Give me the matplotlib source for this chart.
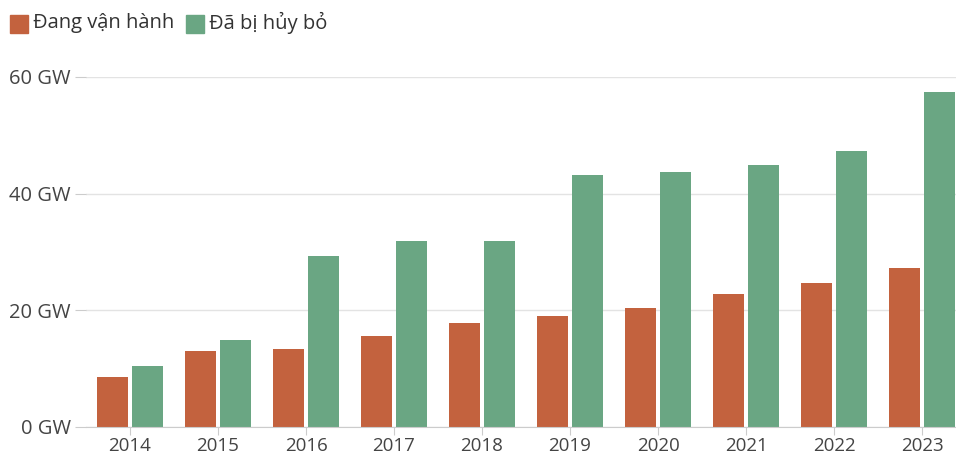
import matplotlib.pyplot as plt
import numpy as np
from matplotlib.patches import Rectangle

years = ['2014', '2015', '2016', '2017', '2018', '2019', '2020', '2021', '2022', '2023']
operating = [8.6, 13.0, 13.4, 15.6, 17.8, 19.0, 20.4, 22.8, 24.7, 27.3]
cancelled = [10.5, 14.9, 29.3, 31.9, 31.9, 43.2, 43.7, 44.9, 47.3, 57.4]
labels = ['Đang vận hành', 'Đã bị hủy bỏ']
colors = ['#c3623e', '#6aa683']

plt.rcParams['font.family'] = ['Open Sans', 'DejaVu Sans']

W, H = 956, 455
fig = plt.figure(figsize=(W / 100, H / 100), dpi=100)
ax = fig.add_axes([86 / W, 1 - 427 / H, (W - 86) / W, 350 / H])

x = np.arange(len(years))
bw = 0.352
ax.bar(x - 0.2, operating, bw, color=colors[0])
ax.bar(x + 0.2, cancelled, bw, color=colors[1])

ax.set_ylim(0, 60)
ax.set_xlim((86 - 130) / 88, (W - 130) / 88)
ax.set_yticks([0, 20, 40, 60])
ax.set_yticklabels(['0 GW', '20 GW', '40 GW', '60 GW'])
ax.set_xticks(x)
ax.set_xticklabels(years)
ax.grid(axis='y', color='#e3e3e3', linewidth=1)
ax.set_axisbelow(True)
for s in ['top', 'right', 'left']:
    ax.spines[s].set_visible(False)
ax.spines['bottom'].set_color('#cccccc')
ax.tick_params(axis='y', length=8, color='#cccccc', labelsize=14.5, labelcolor='#444444', pad=3)
ax.tick_params(axis='x', length=6, color='#cccccc', labelsize=13.5, labelcolor='#444444', pad=1.5)

# legend at top-left
lx = 10
for lab, c in zip(labels, colors):
    fig.patches.append(Rectangle((lx / W, 1 - 33 / H), 18 / W, 18 / H,
                                 transform=fig.transFigure, color=c))
    t = fig.text((lx + 23) / W, 1 - 23 / H, lab, fontsize=14.5, color='#333333', va='center')
    fig.canvas.draw()
    bb = t.get_window_extent()
    lx = bb.x1 + 12

fig.savefig('out.png', dpi=100)
